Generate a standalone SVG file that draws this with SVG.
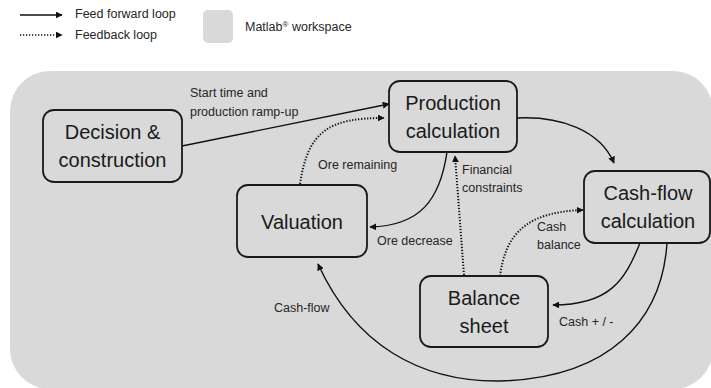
<svg xmlns="http://www.w3.org/2000/svg" width="711" height="388" viewBox="0 0 711 388">
<style>
.node rect{fill:#d9d9d9;stroke:#1a1a1a;stroke-width:1.8}
.node text{font-family:"Liberation Sans",Arial,sans-serif;font-size:20px;fill:#1a1a1a;text-anchor:middle}
.lbl{font-family:"Liberation Sans",Arial,sans-serif;font-size:12.5px;fill:#262626}
.solid{fill:none;stroke:#111;stroke-width:1.4;marker-end:url(#ah)}
.dot{fill:none;stroke:#111;stroke-width:2;stroke-dasharray:1.3 1.7;marker-end:url(#ah)}
</style>
<defs>
<marker id="ah" viewBox="0 0 10 10" refX="9" refY="5" markerWidth="7" markerHeight="7" markerUnits="userSpaceOnUse" orient="auto">
<path d="M0,0 L10,5 L0,10 z" fill="#111"/>
</marker>
</defs>
<rect x="0" y="0" width="711" height="388" fill="#ffffff"/>
<g id="legend">
<line x1="20" y1="15" x2="62" y2="15" class="solid"/>
<line x1="20" y1="35" x2="62" y2="35" class="dot" style="stroke-width:1.6"/>
<text x="75" y="18" class="lbl">Feed forward loop</text>
<text x="75" y="39" class="lbl">Feedback loop</text>
<rect x="203" y="10" width="30" height="33" rx="5" fill="#d9d9d9"/>
<text x="245" y="31" class="lbl">Matlab<tspan font-size="8" dy="-4">®</tspan><tspan dy="4"> workspace</tspan></text>
</g>
<rect id="workspace" x="10" y="71" width="703" height="318" rx="40" fill="#d9d9d9"/>
<g id="connectors">
<path class="solid" d="M182,146 L389,104"/>
<path class="dot" d="M300,184 C308,130 330,118 384,118"/>
<path class="solid" d="M447,152 C440,200 420,226 370,227"/>
<path class="dot" d="M464,275 L455,156"/>
<path class="dot" d="M500,276 C505,240 520,212 583,210"/>
<path class="solid" d="M517,118 C560,116 600,130 614,163"/>
<path class="solid" d="M640,243 C625,280 610,305 553,305"/>
<path class="solid" d="M667,243 C662,320 610,378 500,381 C420,382 355,345 318,264"/>
</g>
<g id="labels">
<text x="190" y="97" class="lbl">Start time and</text>
<text x="190" y="116" class="lbl">production ramp-up</text>
<text x="318" y="169" class="lbl">Ore remaining</text>
<text x="462" y="174" class="lbl">Financial</text>
<text x="462" y="192" class="lbl">constraints</text>
<text x="377" y="245" class="lbl">Ore decrease</text>
<text x="537" y="231" class="lbl">Cash</text>
<text x="537" y="249" class="lbl">balance</text>
<text x="559" y="326" class="lbl">Cash + / -</text>
<text x="274" y="312" class="lbl">Cash-flow</text>
</g>
<g id="decision" class="node">
<rect x="43" y="110" width="139" height="72" rx="11"/>
<text x="112.5" y="139">Decision &amp;</text>
<text x="112.5" y="167">construction</text>
</g>
<g id="production" class="node">
<rect x="389" y="81" width="128" height="71" rx="11"/>
<text x="453" y="110">Production</text>
<text x="453" y="138">calculation</text>
</g>
<g id="valuation" class="node">
<rect x="237" y="185" width="130" height="72" rx="11"/>
<text x="302" y="229">Valuation</text>
</g>
<g id="cashflow" class="node">
<rect x="584" y="171" width="126" height="72" rx="11"/>
<text x="648" y="200">Cash-flow</text>
<text x="648" y="228">calculation</text>
</g>
<g id="balance" class="node">
<rect x="420" y="276" width="128" height="71" rx="11"/>
<text x="484" y="305">Balance</text>
<text x="484" y="333">sheet</text>
</g>
</svg>
